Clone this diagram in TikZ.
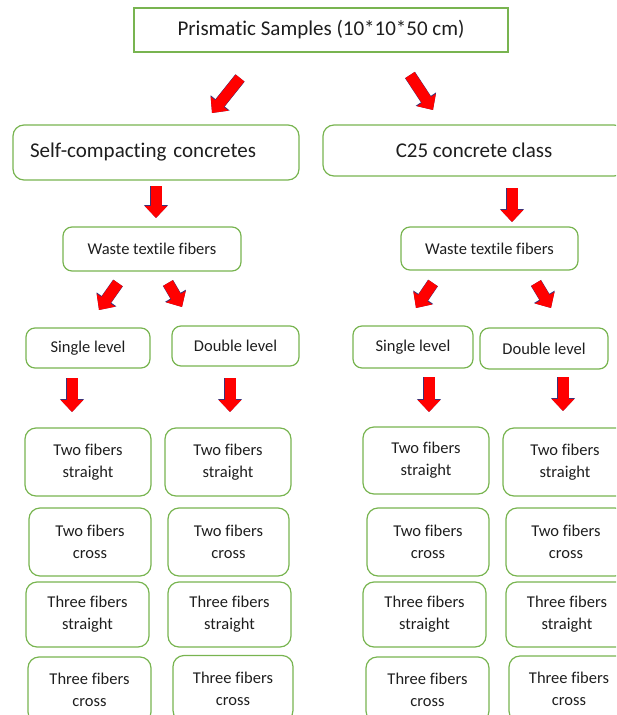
\documentclass[tikz,border=0pt]{standalone}
\usepackage{fontspec}
\setmainfont{Carlito}[Ligatures=CommonOff]
\usetikzlibrary{arrows.meta}
\definecolor{boxgreen}{RGB}{120,180,80}
\definecolor{txtgray}{RGB}{30,30,30}
\definecolor{arrred}{RGB}{255,0,0}
\definecolor{arredge}{RGB}{60,50,120}
\begin{document}
\begin{tikzpicture}[x=1pt,y=-1pt,
  base/.style={draw=boxgreen, line width=1.2pt, text=txtgray, align=center, inner sep=0pt},
  flatbox/.style={base, font=\fontsize{21}{25}\selectfont},
  bigbox/.style={base, rounded corners=11pt, font=\fontsize{21}{25}\selectfont},
  midbox/.style={base, rounded corners=9pt, font=\fontsize{16.5}{20}\selectfont},
  fibbox/.style={base, rounded corners=11pt, font=\fontsize{16.5}{22}\selectfont},
  arrmain/.style={draw=arrred, line width=11pt, -{Triangle[length=12pt,width=22pt]}},
  arrshadow/.style={draw=arredge, line width=11.8pt, -{Triangle[length=13pt,width=23.5pt]}},
]
\useasboundingbox (0,0) rectangle (616,715);
\clip (0,0) rectangle (616,715);

% top level
\node[flatbox, minimum width=374pt, minimum height=44pt] (top) at (321,30) {Prismatic Samples (10*10*50 cm)};
\node[bigbox, minimum width=286pt, minimum height=55pt, text width=252pt, align=left] (scc) at (156,152.5) {Self-compacting concretes};
\node[bigbox, minimum width=302pt, minimum height=51pt] (c25) at (474,150.5) {C25 concrete class};

% waste textile fibers
\node[midbox, minimum width=178pt, minimum height=44pt] (wtfa) at (152,249) {Waste textile fibers};
\node[midbox, minimum width=177pt, minimum height=43pt] (wtfb) at (489.5,248.5) {Waste textile fibers};

% levels
\node[midbox, minimum width=124pt, minimum height=40pt] (sla) at (88,348) {Single level};
\node[midbox, minimum width=127pt, minimum height=40pt] (dla) at (235.5,346) {Double level};
\node[midbox, minimum width=120pt, minimum height=42pt] (slb) at (413,347) {Single level};
\node[midbox, minimum width=128pt, minimum height=41pt] (dlb) at (544,348.5) {Double level};

% column 1
\node[fibbox, minimum width=126pt, minimum height=68pt] (p1) at (88,462) {Two fibers\\straight};
\node[fibbox, minimum width=122pt, minimum height=68pt] (p2) at (90,542) {Two fibers\\cross};
\node[fibbox, minimum width=123pt, minimum height=65pt] (p3) at (87.5,614.5) {Three fibers\\straight};
\node[fibbox, minimum width=123pt, minimum height=66pt] (p4) at (89.5,690) {Three fibers\\cross};
% column 2
\node[fibbox, minimum width=126pt, minimum height=68pt] (q1) at (228,462) {Two fibers\\straight};
\node[fibbox, minimum width=121pt, minimum height=68pt] (q2) at (228.5,542) {Two fibers\\cross};
\node[fibbox, minimum width=123pt, minimum height=65pt] (q3) at (229.5,614.5) {Three fibers\\straight};
\node[fibbox, minimum width=120pt, minimum height=66pt] (q4) at (233,688.5) {Three fibers\\cross};
% column 3
\node[fibbox, minimum width=126pt, minimum height=67pt] (r1) at (426,460.5) {Two fibers\\straight};
\node[fibbox, minimum width=122pt, minimum height=68pt] (r2) at (428,542) {Two fibers\\cross};
\node[fibbox, minimum width=123pt, minimum height=65pt] (r3) at (424.5,614.5) {Three fibers\\straight};
\node[fibbox, minimum width=123pt, minimum height=65pt] (r4) at (427.5,689.5) {Three fibers\\cross};
% column 4
\node[fibbox, minimum width=124pt, minimum height=68pt] (t1) at (565,462) {Two fibers\\straight};
\node[fibbox, minimum width=120pt, minimum height=68pt] (t2) at (566,542) {Two fibers\\cross};
\node[fibbox, minimum width=122pt, minimum height=65pt] (t3) at (567,614.5) {Three fibers\\straight};
\node[fibbox, minimum width=120pt, minimum height=66pt] (t4) at (569,689) {Three fibers\\cross};

% block arrows
\coordinate (s1) at (240,78);   \coordinate (e1) at (212,113);
\coordinate (s2) at (410,75);   \coordinate (e2) at (433,110);
\coordinate (s3) at (156,186);  \coordinate (e3) at (156,218);
\coordinate (s4) at (512,188);  \coordinate (e4) at (512,222);
\coordinate (s5) at (118,283);  \coordinate (e5) at (99,310);
\coordinate (s6) at (168,283);  \coordinate (e6) at (182,307);
\coordinate (s7) at (433,283);  \coordinate (e7) at (416,308);
\coordinate (s8) at (536,283);  \coordinate (e8) at (551,308);
\coordinate (s9) at (72,378);   \coordinate (e9) at (72,412);
\coordinate (s10) at (230,378); \coordinate (e10) at (230,412);
\coordinate (s11) at (429,377); \coordinate (e11) at (429,412);
\coordinate (s12) at (563,377); \coordinate (e12) at (563,411);
\foreach \i in {1,...,12}{
  \draw[arrshadow] (s\i) -- (e\i);
  \draw[arrmain] (s\i) -- (e\i);
}
\end{tikzpicture}
\end{document}
